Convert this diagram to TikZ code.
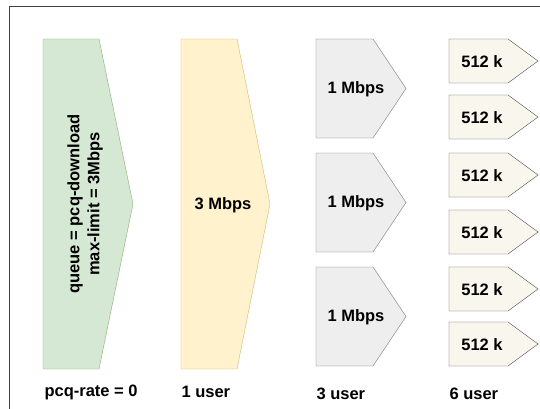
\documentclass[tikz,border=0pt]{standalone}
\usepackage{fontspec}
\setmainfont{Liberation Sans}
\usepackage{xcolor}

\begin{document}
\begin{tikzpicture}[x=1pt,y=-1pt,font=\bfseries\fontsize{16.5}{20}\selectfont]
        \definecolor{queuefill}{HTML}{D5E8D4}
        \definecolor{queueline}{HTML}{82B366}
        \definecolor{userfill}{HTML}{FFF2CC}
        \definecolor{userline}{HTML}{D6B656}
        \definecolor{mbfill}{HTML}{EEEEEE}
        \definecolor{mbline}{HTML}{6E6E6E}
        \definecolor{kfill}{HTML}{F9F7ED}
        \definecolor{kline}{HTML}{4A4A4A}

        \useasboundingbox (0,0) rectangle (540,409);
        \draw[line width=1pt,color=black!75] (9,409) -- (9,7) -- (540,7);

        % queue
        \draw[fill=queuefill,draw=queueline] (43,39) -- (99,39) -- (133,204) -- (99,369) -- (43,369) -- cycle;
        \node[rotate=90,align=center] (queue) at (85,204) {queue = pcq-download\\max-limit = 3Mbps};

        % 1 user
        \draw[fill=userfill,draw=userline] (181,39) -- (237,39) -- (270,204) -- (237,369) -- (181,369) -- cycle;
        \node (mbps3) at (223,205) {3 Mbps};

        % 3 user
        \foreach \t [count=\i] in {39,153,267} {
            \draw[fill=mbfill,draw=mbline] (316,\t) -- (373,\t) -- (406,\t+49.5) -- (373,\t+99) -- (316,\t+99) -- cycle;
            \node (mbps1-\i) at (356,\t+50) {1 Mbps};
        }

        % 6 user
        \foreach \t [count=\i] in {39,95,153,210,267,322} {
            \draw[fill=kfill,draw=kline] (449,\t) -- (508,\t) -- (538,\t+22) -- (508,\t+44) -- (449,\t+44) -- cycle;
            \node (k-\i) at (482,\t+22.5) {512 k};
        }

        \node[anchor=west] (rate) at (41,392) {pcq-rate = 0};
        \node[anchor=west] (user1) at (178,392) {1 user};
        \node[anchor=west] (user3) at (313,394) {3 user};
        \node[anchor=west] (user6) at (446,394) {6 user};
    \end{tikzpicture}
\end{document}
